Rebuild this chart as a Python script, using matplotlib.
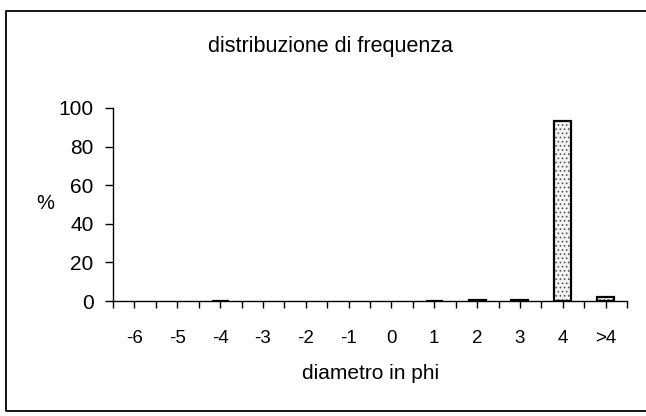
import numpy as np
import matplotlib
matplotlib.use('Agg')
import matplotlib.pyplot as plt
from matplotlib.lines import Line2D
from matplotlib.ticker import FixedLocator

plt.rcParams['font.family'] = 'Liberation Sans'
plt.rcParams['hatch.linewidth'] = 0.7

# classi granulometriche (phi) e frequenza percentuale
categories = ['-6', '-5', '-4', '-3', '-2', '-1', '0', '1', '2', '3', '4', '>4']
frequency = [0, 0, 0.2, 0, 0, 0, 0, 0.2, 0.3, 0.7, 93.5, 2.3]
y_ticks = [0, 20, 40, 60, 80, 100]

fig = plt.figure(figsize=(6.46, 4.16), dpi=100)
ax = fig.add_axes([0.175, 0.2764, 0.7956, 0.464])

x = np.arange(len(categories))
freq = np.array(frequency)
nz = freq > 0
# stippled fill, then a black outline on top (empty classes not drawn)
ax.bar(x[nz], freq[nz], width=0.4, color='#f4f4f4', edgecolor='#555555',
       hatch='....', linewidth=0, zorder=2)
ax.bar(x[nz], freq[nz], width=0.4, fill=False, edgecolor='black',
       linewidth=1.6, zorder=3)

ax.set_xlim(-0.5, len(categories) - 0.5)
ax.set_ylim(0, 100)
ax.set_xticks(x)
ax.set_xticklabels(categories)
ax.xaxis.set_minor_locator(FixedLocator(np.arange(-0.5, len(categories), 1.0)))
ax.set_yticks(y_ticks)

for side in ['top', 'right']:
    ax.spines[side].set_visible(False)
ax.spines['left'].set_linewidth(1.0)
ax.spines['bottom'].set_linewidth(1.0)

ax.tick_params(axis='x', which='both', direction='out', length=5, width=1.0)
ax.tick_params(axis='x', which='major', labelsize=13.5, pad=16)
ax.tick_params(axis='y', direction='out', length=6, width=1.0, labelsize=15, pad=8)

fig.text(0.573, 0.101, 'diametro in phi', fontsize=15, ha='center', va='center')
fig.text(0.07, 0.512, '%', fontsize=14.5, ha='center', va='center')
fig.text(0.511, 0.889, 'distribuzione di frequenza', fontsize=15.5, ha='center', va='center')

# cornice della figura (lato destro fuori immagine)
left, top, bottom = 6 / 646, 1 - 11 / 416, 1 - 411 / 416
frame = Line2D([1.0, left, left, 1.0], [top, top, bottom, bottom],
               transform=fig.transFigure, color='black', linewidth=1.3)
fig.lines.append(frame)

fig.savefig('out.png', dpi=100)
